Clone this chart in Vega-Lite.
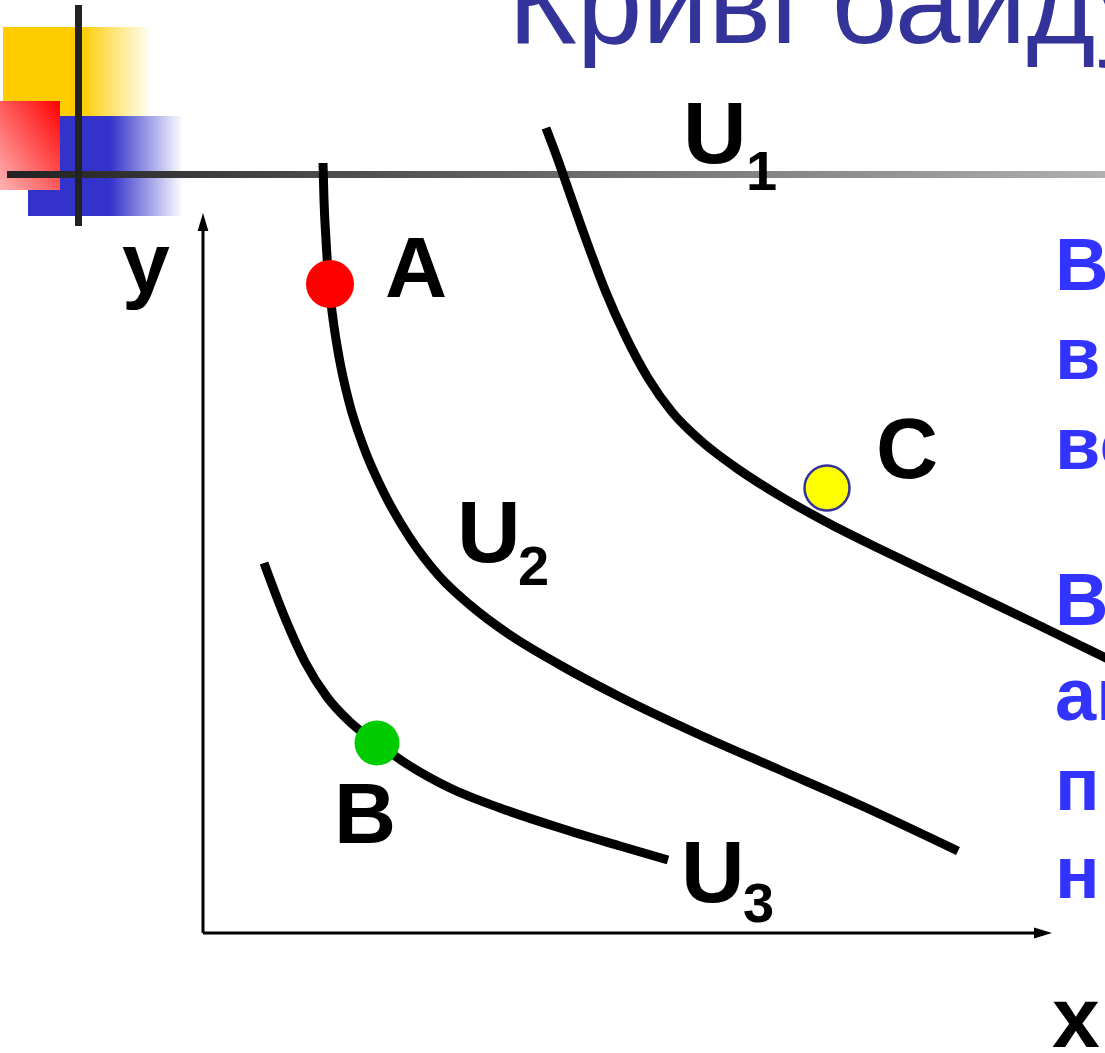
{
  "$schema": "https://vega.github.io/schema/vega-lite/v6.json",
  "width": 1105,
  "height": 1053,
  "autosize": "none",
  "padding": 0,
  "background": "white",
  "config": {"view": {"stroke": null}},
  "datasets": {
    "deco": [
      {"part": "yellow", "x": -20.0, "x2": -5.1, "y": 90.6, "y2": 81.7},
      {"part": "blue", "x": -17.5, "x2": -2.0, "y": 81.7, "y2": 71.7},
      {"part": "red", "x": -20.3, "x2": -14.3, "y": 83.2, "y2": 74.3},
      {"part": "vbar", "x": -12.8, "x2": -12.1, "y": 92.8, "y2": 70.7},
      {"part": "hbar", "x": -19.6, "x2": 90.5, "y": 76.2, "y2": 75.5}
    ],
    "curves": [
      {"curve": "U1", "x": 34.3, "y": 80.5},
      {"curve": "U1", "x": 35.5, "y": 77.3},
      {"curve": "U1", "x": 36.9, "y": 73.3},
      {"curve": "U1", "x": 38.5, "y": 68.8},
      {"curve": "U1", "x": 40.2, "y": 64.3},
      {"curve": "U1", "x": 42.2, "y": 59.8},
      {"curve": "U1", "x": 44.5, "y": 55.5},
      {"curve": "U1", "x": 46.9, "y": 52.1},
      {"curve": "U1", "x": 49.7, "y": 49.3},
      {"curve": "U1", "x": 53.2, "y": 46.6},
      {"curve": "U1", "x": 57.7, "y": 43.7},
      {"curve": "U1", "x": 62.7, "y": 40.9},
      {"curve": "U1", "x": 67.7, "y": 38.4},
      {"curve": "U1", "x": 72.7, "y": 36.0},
      {"curve": "U1", "x": 77.7, "y": 33.6},
      {"curve": "U1", "x": 82.7, "y": 31.2},
      {"curve": "U1", "x": 90.7, "y": 27.3},
      {"curve": "U2", "x": 12.0, "y": 77.0},
      {"curve": "U2", "x": 12.1, "y": 73.3},
      {"curve": "U2", "x": 12.3, "y": 69.3},
      {"curve": "U2", "x": 12.6, "y": 64.9},
      {"curve": "U2", "x": 13.0, "y": 61.4},
      {"curve": "U2", "x": 13.6, "y": 57.6},
      {"curve": "U2", "x": 14.6, "y": 53.1},
      {"curve": "U2", "x": 16.1, "y": 48.5},
      {"curve": "U2", "x": 18.2, "y": 43.8},
      {"curve": "U2", "x": 20.7, "y": 39.5},
      {"curve": "U2", "x": 23.7, "y": 35.6},
      {"curve": "U2", "x": 26.7, "y": 32.8},
      {"curve": "U2", "x": 30.7, "y": 29.8},
      {"curve": "U2", "x": 35.7, "y": 26.8},
      {"curve": "U2", "x": 41.7, "y": 23.6},
      {"curve": "U2", "x": 49.7, "y": 19.8},
      {"curve": "U2", "x": 57.7, "y": 16.3},
      {"curve": "U2", "x": 65.7, "y": 12.8},
      {"curve": "U2", "x": 75.5, "y": 8.2},
      {"curve": "U3", "x": 6.1, "y": 37.0},
      {"curve": "U3", "x": 8.2, "y": 31.5},
      {"curve": "U3", "x": 10.2, "y": 27.1},
      {"curve": "U3", "x": 12.4, "y": 23.6},
      {"curve": "U3", "x": 14.7, "y": 21.1},
      {"curve": "U3", "x": 17.4, "y": 19.0},
      {"curve": "U3", "x": 20.7, "y": 16.7},
      {"curve": "U3", "x": 24.7, "y": 14.5},
      {"curve": "U3", "x": 29.7, "y": 12.5},
      {"curve": "U3", "x": 35.7, "y": 10.5},
      {"curve": "U3", "x": 41.7, "y": 8.7},
      {"curve": "U3", "x": 46.5, "y": 7.3}
    ],
    "axes": [
      {"axis": "y", "x": 0, "y": 0, "x2": 0, "y2": 70.5},
      {"axis": "x", "x": 0, "y": 0, "x2": 83.3, "y2": 0}
    ],
    "arrows": [
      {"axis": "y", "x": 0, "y": 71.1},
      {"axis": "x", "x": 84.0, "y": 0}
    ],
    "points": [
      {"point": "A", "x": 12.7, "y": 64.9},
      {"point": "B", "x": 17.4, "y": 19.0},
      {"point": "C", "x": 62.4, "y": 44.5}
    ],
    "title": [{"text": "Криві байдужості", "x": 30.5, "y": 89.0}],
    "labels": [
      {"text": "A", "x": 18.2, "y": 63.6},
      {"text": "B", "x": 13.1, "y": 9.0},
      {"text": "C", "x": 67.3, "y": 45.5},
      {"text": "y", "x": -8.1, "y": 64.1},
      {"text": "x", "x": 84.9, "y": -11.4}
    ],
    "ubig": [
      {"text": "U", "x": 48.0, "y": 77.0},
      {"text": "U", "x": 25.4, "y": 37.1},
      {"text": "U", "x": 47.8, "y": 3.1}
    ],
    "usub": [
      {"text": "1", "x": 54.3, "y": 74.3},
      {"text": "2", "x": 31.5, "y": 34.8},
      {"text": "3", "x": 54.0, "y": 1.1}
    ],
    "side": [
      {"text": "Всі", "x": 85.2, "y": 64.3},
      {"text": "в", "x": 85.2, "y": 55.4},
      {"text": "во", "x": 85.2, "y": 46.4},
      {"text": "Всі", "x": 85.2, "y": 30.8},
      {"text": "ан", "x": 85.2, "y": 21.3},
      {"text": "п", "x": 85.2, "y": 12.3},
      {"text": "н", "x": 85.2, "y": 3.5}
    ]
  },
  "encoding": {
    "x": {"type": "quantitative", "scale": {"domain": [-20.3, 90.2], "nice": false, "zero": false}, "axis": null},
    "y": {"type": "quantitative", "scale": {"domain": [-12, 93.3], "nice": false, "zero": false}, "axis": null}
  },
  "layer": [
    {
      "data": {"name": "deco"},
      "transform": [{"filter": "datum.part === 'yellow'"}],
      "mark": {"type": "rect", "color": {"gradient": "linear", "x1": 0, "y1": 0, "x2": 1, "y2": 0, "stops": [{"offset": 0, "color": "#ffcc00"}, {"offset": 0.52, "color": "#ffcc00"}, {"offset": 1, "color": "#ffffff"}]}},
      "encoding": {"x": {"field": "x", "type": "quantitative"}, "x2": {"field": "x2"}, "y": {"field": "y", "type": "quantitative"}, "y2": {"field": "y2"}}
    },
    {
      "data": {"name": "deco"},
      "transform": [{"filter": "datum.part === 'blue'"}],
      "mark": {"type": "rect", "color": {"gradient": "linear", "x1": 0, "y1": 0, "x2": 1, "y2": 0, "stops": [{"offset": 0, "color": "#3333cc"}, {"offset": 0.53, "color": "#3333cc"}, {"offset": 1, "color": "#ffffff"}]}},
      "encoding": {"x": {"field": "x", "type": "quantitative"}, "x2": {"field": "x2"}, "y": {"field": "y", "type": "quantitative"}, "y2": {"field": "y2"}}
    },
    {
      "data": {"name": "deco"},
      "transform": [{"filter": "datum.part === 'red'"}],
      "mark": {"type": "rect", "color": {"gradient": "linear", "x1": 1, "y1": 0, "x2": 0, "y2": 1, "stops": [{"offset": 0, "color": "#ff0000"}, {"offset": 1, "color": "#ffb4b4"}]}},
      "encoding": {"x": {"field": "x", "type": "quantitative"}, "x2": {"field": "x2"}, "y": {"field": "y", "type": "quantitative"}, "y2": {"field": "y2"}}
    },
    {
      "data": {"name": "deco"},
      "transform": [{"filter": "datum.part === 'hbar'"}],
      "mark": {"type": "rect", "color": {"gradient": "linear", "x1": 0, "y1": 0, "x2": 1, "y2": 0, "stops": [{"offset": 0, "color": "#222222"}, {"offset": 1, "color": "#b0b0b0"}]}},
      "encoding": {"x": {"field": "x", "type": "quantitative"}, "x2": {"field": "x2"}, "y": {"field": "y", "type": "quantitative"}, "y2": {"field": "y2"}}
    },
    {
      "data": {"name": "deco"},
      "transform": [{"filter": "datum.part === 'vbar'"}],
      "mark": {"type": "rect", "color": "#222222"},
      "encoding": {"x": {"field": "x", "type": "quantitative"}, "x2": {"field": "x2"}, "y": {"field": "y", "type": "quantitative"}, "y2": {"field": "y2"}}
    },
    {
      "data": {"name": "title"},
      "mark": {"type": "text", "font": "Liberation Sans", "fontSize": 118, "color": "#333399", "align": "left", "baseline": "alphabetic"},
      "encoding": {"x": {"field": "x", "type": "quantitative"}, "y": {"field": "y", "type": "quantitative"}, "text": {"field": "text"}}
    },
    {
      "data": {"name": "curves"},
      "mark": {"type": "line", "color": "black", "strokeWidth": 9, "interpolate": "monotone", "strokeCap": "butt"},
      "encoding": {"x": {"field": "x", "type": "quantitative"}, "y": {"field": "y", "type": "quantitative"}, "detail": {"field": "curve"}}
    },
    {
      "data": {"name": "axes"},
      "mark": {"type": "rule", "color": "black", "strokeWidth": 3},
      "encoding": {"x": {"field": "x", "type": "quantitative"}, "y": {"field": "y", "type": "quantitative"}, "x2": {"field": "x2"}, "y2": {"field": "y2"}}
    },
    {
      "data": {"name": "arrows"},
      "transform": [{"filter": "datum.axis === 'y'"}],
      "mark": {"type": "point", "shape": "M0,-1L0.6,1L-0.6,1Z", "filled": true, "color": "black", "opacity": 1, "size": 324},
      "encoding": {"x": {"field": "x", "type": "quantitative"}, "y": {"field": "y", "type": "quantitative"}}
    },
    {
      "data": {"name": "arrows"},
      "transform": [{"filter": "datum.axis === 'x'"}],
      "mark": {"type": "point", "shape": "M1,0L-1,-0.6L-1,0.6Z", "filled": true, "color": "black", "opacity": 1, "size": 324},
      "encoding": {"x": {"field": "x", "type": "quantitative"}, "y": {"field": "y", "type": "quantitative"}}
    },
    {
      "data": {"name": "points"},
      "transform": [{"filter": "datum.point === 'A'"}],
      "mark": {"type": "circle", "color": "#ff0000", "opacity": 1, "size": 2304},
      "encoding": {"x": {"field": "x", "type": "quantitative"}, "y": {"field": "y", "type": "quantitative"}}
    },
    {
      "data": {"name": "points"},
      "transform": [{"filter": "datum.point === 'B'"}],
      "mark": {"type": "circle", "color": "#00cc00", "opacity": 1, "size": 2025},
      "encoding": {"x": {"field": "x", "type": "quantitative"}, "y": {"field": "y", "type": "quantitative"}}
    },
    {
      "data": {"name": "points"},
      "transform": [{"filter": "datum.point === 'C'"}],
      "mark": {"type": "circle", "fill": "#ffff00", "stroke": "#333399", "strokeWidth": 2.5, "opacity": 1, "size": 2025},
      "encoding": {"x": {"field": "x", "type": "quantitative"}, "y": {"field": "y", "type": "quantitative"}}
    },
    {
      "data": {"name": "labels"},
      "mark": {"type": "text", "font": "Liberation Sans", "fontWeight": "bold", "fontSize": 86, "color": "black", "align": "left", "baseline": "alphabetic"},
      "encoding": {"x": {"field": "x", "type": "quantitative"}, "y": {"field": "y", "type": "quantitative"}, "text": {"field": "text"}}
    },
    {
      "data": {"name": "ubig"},
      "mark": {"type": "text", "font": "Liberation Sans", "fontWeight": "bold", "fontSize": 88, "color": "black", "align": "left", "baseline": "alphabetic"},
      "encoding": {"x": {"field": "x", "type": "quantitative"}, "y": {"field": "y", "type": "quantitative"}, "text": {"field": "text"}}
    },
    {
      "data": {"name": "usub"},
      "mark": {"type": "text", "font": "Liberation Sans", "fontWeight": "bold", "fontSize": 56, "color": "black", "align": "left", "baseline": "alphabetic"},
      "encoding": {"x": {"field": "x", "type": "quantitative"}, "y": {"field": "y", "type": "quantitative"}, "text": {"field": "text"}}
    },
    {
      "data": {"name": "side"},
      "mark": {"type": "text", "font": "Liberation Sans", "fontWeight": "bold", "fontSize": 74, "color": "#3333ff", "align": "left", "baseline": "alphabetic"},
      "encoding": {"x": {"field": "x", "type": "quantitative"}, "y": {"field": "y", "type": "quantitative"}, "text": {"field": "text"}}
    }
  ]
}
